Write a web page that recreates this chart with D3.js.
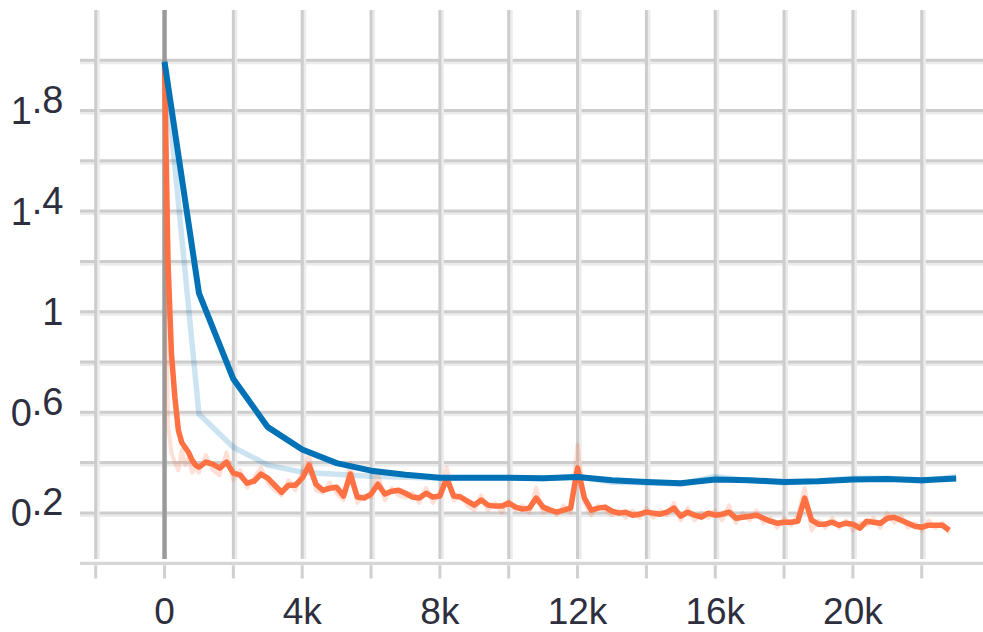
<!DOCTYPE html>
<html>
<head>
<meta charset="utf-8">
<script src="https://cdn.jsdelivr.net/npm/d3@7"></script>
<style>
  html, body { margin: 0; padding: 0; background: #ffffff; }
  svg { display: block; font-family: "Liberation Sans", Arial, sans-serif; }
</style>
</head>
<body>
<svg id="chart" width="983" height="632"></svg>
<script>
// Training loss (orange, logged densely) and evaluation loss (blue, every 1k steps)

// Orange run: 100-step spacing for the first 1k steps, then 200-step spacing
const orangeSteps = d3.range(0, 1000, 100).concat(d3.range(1000, 22801, 200));

const orangeSmooth = [
  1.99, 1.20, 0.835, 0.66, 0.53, 0.48, 0.46, 0.44, 0.41, 0.39,
  0.382, 0.402, 0.394, 0.378, 0.402, 0.358, 0.350, 0.318, 0.326, 0.354,
  0.338, 0.310, 0.282, 0.310, 0.310, 0.338, 0.390, 0.314, 0.290, 0.298,
  0.302, 0.267, 0.354, 0.263, 0.259, 0.275, 0.314, 0.275, 0.286, 0.290,
  0.278, 0.263, 0.259, 0.278, 0.263, 0.267, 0.338, 0.267, 0.263, 0.247,
  0.231, 0.251, 0.231, 0.227, 0.227, 0.239, 0.223, 0.215, 0.219, 0.259,
  0.223, 0.211, 0.203, 0.211, 0.219, 0.378, 0.259, 0.211, 0.219, 0.223,
  0.207, 0.199, 0.203, 0.191, 0.195, 0.203, 0.199, 0.195, 0.203, 0.219,
  0.187, 0.203, 0.191, 0.183, 0.199, 0.191, 0.195, 0.203, 0.179, 0.183,
  0.187, 0.191, 0.179, 0.167, 0.159, 0.163, 0.163, 0.167, 0.259, 0.171,
  0.155, 0.155, 0.163, 0.151, 0.159, 0.155, 0.139, 0.167, 0.163, 0.159,
  0.179, 0.183, 0.171, 0.159, 0.147, 0.143, 0.151, 0.151, 0.151, 0.131
];

const orangeRaw = [
  1.60, 0.55, 0.44, 0.40, 0.37, 0.45, 0.39, 0.42, 0.36, 0.38,
  0.36, 0.43, 0.37, 0.35, 0.44, 0.33, 0.37, 0.30, 0.34, 0.38,
  0.32, 0.29, 0.27, 0.33, 0.29, 0.36, 0.43, 0.29, 0.28, 0.32,
  0.28, 0.25, 0.40, 0.24, 0.27, 0.26, 0.36, 0.25, 0.30, 0.27,
  0.26, 0.28, 0.24, 0.30, 0.24, 0.28, 0.38, 0.25, 0.27, 0.23,
  0.21, 0.27, 0.21, 0.24, 0.20, 0.25, 0.21, 0.23, 0.20, 0.30,
  0.20, 0.22, 0.19, 0.23, 0.20, 0.47, 0.24, 0.19, 0.23, 0.21,
  0.19, 0.21, 0.18, 0.21, 0.18, 0.22, 0.18, 0.21, 0.19, 0.24,
  0.17, 0.22, 0.17, 0.20, 0.18, 0.21, 0.17, 0.23, 0.16, 0.20,
  0.17, 0.21, 0.16, 0.18, 0.14, 0.18, 0.15, 0.19, 0.30, 0.13,
  0.17, 0.14, 0.18, 0.14, 0.17, 0.13, 0.16, 0.15, 0.18, 0.14,
  0.20, 0.16, 0.19, 0.14, 0.16, 0.13, 0.17, 0.14, 0.16, 0.12
];

// Blue run: evaluated every 1000 steps
const blueSteps = [0, 1000, 2000, 3000, 4000, 5000, 6000, 7000, 8000, 9000, 10000, 11000,
                   12000, 13000, 14000, 15000, 16000, 17000, 18000, 19000, 20000, 21000, 22000, 23000];

const blueSmooth = [1.993, 1.074, 0.732, 0.541, 0.452, 0.398, 0.368, 0.352, 0.340, 0.340, 0.340, 0.338,
                    0.343, 0.330, 0.323, 0.318, 0.333, 0.330, 0.323, 0.326, 0.333, 0.335, 0.330, 0.337];

const blueRaw = [2.0, 0.593, 0.461, 0.39, 0.362, 0.354, 0.346, 0.342, 0.338, 0.340, 0.340, 0.336,
                 0.346, 0.322, 0.320, 0.315, 0.345, 0.328, 0.320, 0.328, 0.338, 0.338, 0.326, 0.345];

// Axis ticks
const xGridSteps = [-2000, 0, 2000, 4000, 6000, 8000, 10000, 12000, 14000, 16000, 18000, 20000, 22000];
const xLabelSteps = [0, 4000, 8000, 12000, 16000, 20000];
const xLabels = ["0", "4k", "8k", "12k", "16k", "20k"];
const yGridValues = [0.2, 0.4, 0.6, 0.8, 1.0, 1.2, 1.4, 1.6, 1.8, 2.0];
const yLabelValues = [0.2, 0.6, 1.0, 1.4, 1.8];
const yLabels = ["0.2", "0.6", "1", "1.4", "1.8"];

const svg = d3.select("#chart");

const x = d3.scaleLinear().domain([-2000, 23780]).range([95.7, 983]);
const y = d3.scaleLinear().domain([0, 2.2]).range([563.2, 9.9]);

const plotTop = 10, plotBottom = 559, axisY = 563.3;

// Grid: a mid-grey core with a soft light band beside it
const grid = svg.append("g");
yGridValues.forEach(v => {
  grid.append("line").attr("x1", 80).attr("x2", 983)
    .attr("y1", y(v) + 2.5).attr("y2", y(v) + 2.5)
    .attr("stroke", "#ebebeb").attr("stroke-width", 3);
  grid.append("line").attr("x1", 80).attr("x2", 983)
    .attr("y1", y(v)).attr("y2", y(v))
    .attr("stroke", "#cdcdcd").attr("stroke-width", 3);
});
xGridSteps.forEach(s => {
  if (s === 0) return;
  grid.append("line").attr("x1", x(s) + 2.5).attr("x2", x(s) + 2.5)
    .attr("y1", plotTop).attr("y2", plotBottom)
    .attr("stroke", "#ebebeb").attr("stroke-width", 3);
  grid.append("line").attr("x1", x(s)).attr("x2", x(s))
    .attr("y1", plotTop).attr("y2", plotBottom)
    .attr("stroke", "#cdcdcd").attr("stroke-width", 3);
});
// zero line
grid.append("line").attr("x1", x(0)).attr("x2", x(0))
  .attr("y1", plotTop).attr("y2", plotBottom)
  .attr("stroke", "#9a9a9a").attr("stroke-width", 4.5);

// Bottom axis line and tick marks
grid.append("line").attr("x1", 80).attr("x2", 983)
  .attr("y1", axisY).attr("y2", axisY)
  .attr("stroke", "#d6d6d6").attr("stroke-width", 3.2);
xGridSteps.forEach(s => {
  grid.append("line").attr("x1", x(s)).attr("x2", x(s))
    .attr("y1", axisY + 2).attr("y2", 578.5)
    .attr("stroke", "#d0d0d0").attr("stroke-width", 3);
});

// Tick labels
const textColor = "#2e2f3e";
svg.append("g").selectAll("text").data(xLabelSteps).join("text")
  .attr("x", d => x(d)).attr("y", 624)
  .attr("text-anchor", "middle")
  .attr("font-size", 37).attr("fill", textColor)
  .text((d, i) => xLabels[i]);

const yText = svg.append("g").selectAll("text").data(yLabelValues).join("text")
  .attr("x", 63.5).attr("y", d => y(d) + 13.5)
  .attr("text-anchor", "end")
  .attr("font-size", 38).attr("fill", textColor);
yText.each(function (d, i) {
  const parts = yLabels[i].split(".");
  const t = d3.select(this);
  t.append("tspan").text(parts[0]);
  if (parts.length > 1) {
    t.append("tspan").attr("dy", -11).text("." + parts[1]);
  }
});

// Series
const line = d3.line().x(d => x(d[0])).y(d => y(d[1]));
const zipped = (steps, vals) => steps.map((s, i) => [s, vals[i]]);

const lines = svg.append("g").attr("fill", "none").attr("stroke-linejoin", "round");

lines.append("path").datum(zipped(blueSteps, blueRaw))
  .attr("d", line).attr("stroke", "#0277bd").attr("stroke-opacity", 0.2).attr("stroke-width", 5.5);
lines.append("path").datum(zipped(orangeSteps, orangeRaw))
  .attr("d", line).attr("stroke", "#ff7043").attr("stroke-opacity", 0.22).attr("stroke-width", 4);
lines.append("path").datum(zipped(orangeSteps, orangeSmooth))
  .attr("d", line).attr("stroke", "#ff7043").attr("stroke-width", 5.5);
lines.append("path").datum(zipped(blueSteps, blueSmooth))
  .attr("d", line).attr("stroke", "#0272b6").attr("stroke-width", 6);
</script>
</body>
</html>
